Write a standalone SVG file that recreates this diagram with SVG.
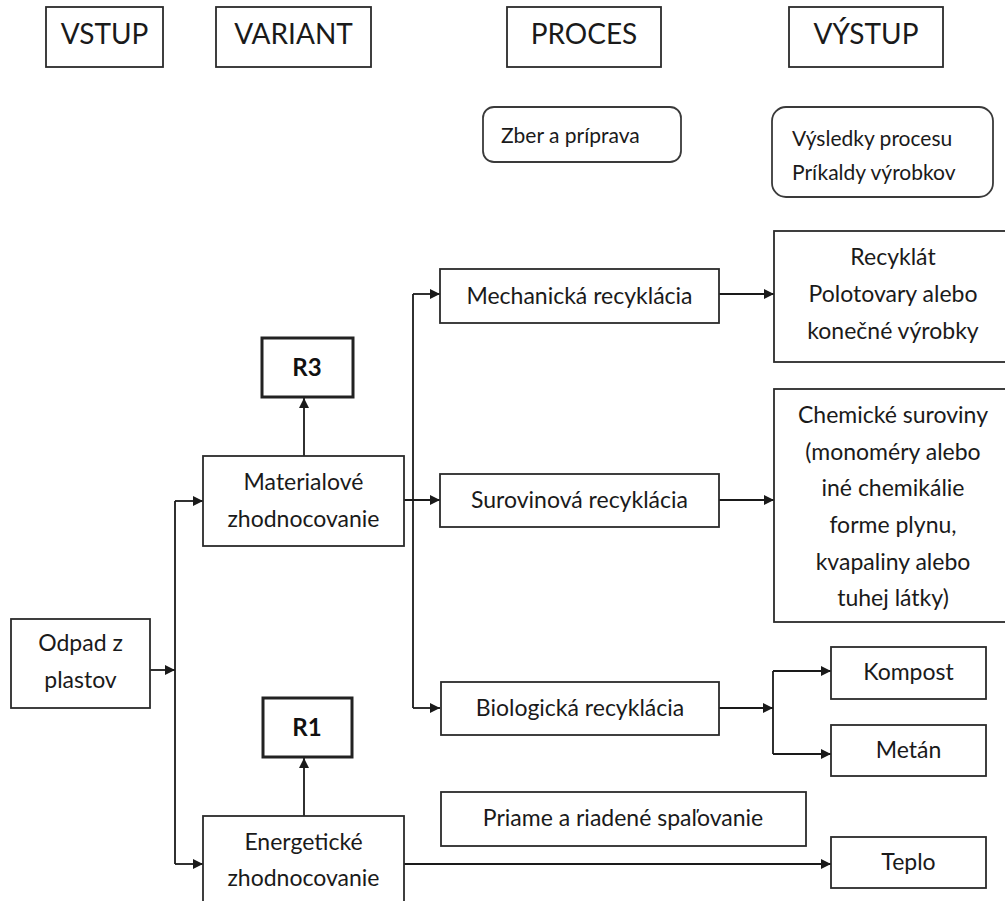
<svg xmlns="http://www.w3.org/2000/svg" width="1005" height="901" viewBox="0 0 1005 901">
<style>
.box{fill:#fff;stroke:#2b2b2b;stroke-width:1.8}
.rbox{fill:#fff;stroke:#222;stroke-width:3}
.rnd{fill:#fff;stroke:#3a3a3a;stroke-width:1.8}
.t{font-family:Lato,"Liberation Sans",sans-serif;font-size:23px;fill:#1a1a1a;text-anchor:middle}
.h{font-family:Lato,"Liberation Sans",sans-serif;font-size:28px;fill:#1a1a1a;text-anchor:middle}
.s{font-family:Lato,"Liberation Sans",sans-serif;font-size:21px;fill:#1a1a1a}
.b{font-family:Lato,"Liberation Sans",sans-serif;font-size:24px;font-weight:bold;fill:#111;text-anchor:middle}
.c{fill:none;stroke:#1a1a1a;stroke-width:1.8}
</style>
<defs>
<marker id="ah" viewBox="0 0 10 10" refX="10" refY="5" markerWidth="11" markerHeight="10" markerUnits="userSpaceOnUse" orient="auto">
<path d="M0,0 L10,5 L0,10 z" fill="#1a1a1a"/>
</marker>
</defs>
<rect width="1005" height="901" fill="#fff"/>

<g id="connectors">
<line class="c" x1="150" y1="670" x2="175" y2="670" marker-end="url(#ah)"/>
<line class="c" x1="175" y1="501" x2="175" y2="864"/>
<line class="c" x1="175" y1="501" x2="203" y2="501" marker-end="url(#ah)"/>
<line class="c" x1="175" y1="864" x2="203" y2="864" marker-end="url(#ah)"/>
<line class="c" x1="304" y1="456" x2="304" y2="398" marker-end="url(#ah)"/>
<line class="c" x1="304" y1="816" x2="304" y2="758" marker-end="url(#ah)"/>
<line class="c" x1="404" y1="500" x2="440" y2="500" marker-end="url(#ah)"/>
<line class="c" x1="413" y1="294" x2="413" y2="708"/>
<line class="c" x1="413" y1="294" x2="440" y2="294" marker-end="url(#ah)"/>
<line class="c" x1="413" y1="708" x2="440" y2="708" marker-end="url(#ah)"/>
<line class="c" x1="719" y1="294" x2="774" y2="294" marker-end="url(#ah)"/>
<line class="c" x1="719" y1="500" x2="774" y2="500" marker-end="url(#ah)"/>
<line class="c" x1="719" y1="708" x2="773" y2="708" marker-end="url(#ah)"/>
<line class="c" x1="773" y1="671" x2="773" y2="754"/>
<line class="c" x1="773" y1="671" x2="831" y2="671" marker-end="url(#ah)"/>
<line class="c" x1="773" y1="754" x2="831" y2="754" marker-end="url(#ah)"/>
<line class="c" x1="404" y1="864" x2="831" y2="864" marker-end="url(#ah)"/>
</g>

<g id="vstup"><rect class="box" x="46" y="7" width="117" height="60"/><text class="h" x="104.5" y="44">VSTUP</text></g>
<g id="variant"><rect class="box" x="216" y="7" width="155" height="60"/><text class="h" x="293.5" y="44">VARIANT</text></g>
<g id="proces"><rect class="box" x="507" y="7" width="154" height="60"/><text class="h" x="584" y="44">PROCES</text></g>
<g id="vystup"><rect class="box" x="789" y="7" width="154" height="60"/><text class="h" x="866" y="44">VÝSTUP</text></g>

<g id="zber"><rect class="rnd" x="483" y="107" width="198" height="55" rx="11"/><text class="s" x="501" y="143">Zber a príprava</text></g>
<g id="vysledky"><rect class="rnd" x="772" y="107" width="221" height="90" rx="14"/><text class="s" x="792" y="146">Výsledky procesu</text><text class="s" x="792" y="180">Príkaldy výrobkov</text></g>

<g id="odpad"><rect class="box" x="11" y="619" width="139" height="89"/><text class="t" x="80.5" y="651">Odpad z</text><text class="t" x="80.5" y="688">plastov</text></g>
<g id="r3"><rect class="rbox" x="262" y="338" width="91" height="59"/><text class="b" x="307" y="376">R3</text></g>
<g id="materialove"><rect class="box" x="203" y="456" width="201" height="90"/><text class="t" x="303.5" y="490">Materialové</text><text class="t" x="303.5" y="527">zhodnocovanie</text></g>
<g id="r1"><rect class="rbox" x="263" y="698" width="89" height="59"/><text class="b" x="307" y="736">R1</text></g>
<g id="energeticke"><rect class="box" x="203" y="816" width="201" height="100"/><text class="t" x="303.5" y="850">Energetické</text><text class="t" x="303.5" y="886">zhodnocovanie</text></g>

<g id="mechanicka"><rect class="box" x="440" y="269" width="279" height="54"/><text class="t" x="579.5" y="304">Mechanická recyklácia</text></g>
<g id="surovinova"><rect class="box" x="440" y="474" width="279" height="53"/><text class="t" x="579.5" y="508">Surovinová  recyklácia</text></g>
<g id="biologicka"><rect class="box" x="441" y="682" width="278" height="53"/><text class="t" x="580" y="716">Biologická recyklácia</text></g>
<g id="priame"><rect class="box" x="441" y="792" width="365" height="54"/><text class="t" x="623" y="826">Priame a riadené spaľovanie</text></g>

<g id="recyklat"><rect class="box" x="774" y="231" width="240" height="131"/><text class="t" x="893" y="265">Recyklát</text><text class="t" x="893" y="302">Polotovary alebo</text><text class="t" x="893" y="339">konečné výrobky</text></g>
<g id="chemicke"><rect class="box" x="774" y="389" width="240" height="233"/><text class="t" x="893" y="423">Chemické suroviny</text><text class="t" x="893" y="460">(monoméry alebo</text><text class="t" x="893" y="496">iné chemikálie</text><text class="t" x="893" y="533">forme plynu,</text><text class="t" x="893" y="570">kvapaliny alebo</text><text class="t" x="893" y="606">tuhej látky)</text></g>
<g id="kompost"><rect class="box" x="831" y="647" width="155" height="52"/><text class="t" x="908.5" y="680">Kompost</text></g>
<g id="metan"><rect class="box" x="831" y="725" width="155" height="51"/><text class="t" x="908.5" y="758">Metán</text></g>
<g id="teplo"><rect class="box" x="831" y="837" width="155" height="51"/><text class="t" x="908.5" y="870">Teplo</text></g>
</svg>
